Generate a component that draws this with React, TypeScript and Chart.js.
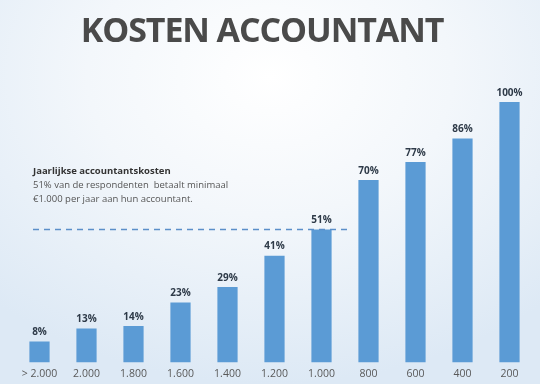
import React, { useEffect, useRef } from "react";
import { Chart, registerables } from "chart.js";

Chart.register(...registerables);

const categories = ["> 2.000", "2.000", "1.800", "1.600", "1.400", "1.200", "1.000", "800", "600", "400", "200"];
const values = [8, 13, 14, 23, 29, 41, 51, 70, 77, 86, 100];
const titleText = "KOSTEN ACCOUNTANT";
const noteTitle = "Jaarlijkse accountantskosten";
const noteLines = ["51% van de respondenten  betaalt minimaal", "€1.000 per jaar aan hun accountant."];
const refValue = 51;
const refIndex = 6;

const overlay = {
  id: "overlay",
  afterDatasetsDraw(chart: any) {
    const ctx = chart.ctx;
    const meta = chart.getDatasetMeta(0);
    const y = chart.scales.y;
    ctx.save();
    // title
    ctx.fillStyle = "#4a4a4a";
    ctx.font = "bold 34px 'Open Sans'";
    (ctx as any).letterSpacing = "-1.1px";
    ctx.textAlign = "center";
    ctx.textBaseline = "alphabetic";
    ctx.fillText(titleText, 262, 42);
    (ctx as any).letterSpacing = "0px";
    // data labels
    ctx.font = "bold 10px 'Open Sans'";
    ctx.fillStyle = "#2e3a48";
    ctx.textBaseline = "bottom";
    meta.data.forEach((bar: any, i: number) => {
      ctx.fillText(values[i] + "%", bar.x, bar.y - 4);
    });
    // dashed reference line
    const ry = y.getPixelForValue(refValue);
    const refBar = meta.data[refIndex];
    ctx.strokeStyle = "#5b8fc9";
    ctx.lineWidth = 1.5;
    ctx.setLineDash([6, 5]);
    ctx.beginPath();
    ctx.moveTo(33, ry);
    ctx.lineTo(refBar.x + refBar.width / 2 + 16, ry);
    ctx.stroke();
    ctx.setLineDash([]);
    // note
    ctx.textAlign = "left";
    ctx.textBaseline = "alphabetic";
    ctx.font = "bold 9.5px 'Open Sans'";
    ctx.fillStyle = "#333333";
    ctx.fillText(noteTitle, 33, 174);
    ctx.font = "9.5px 'Open Sans'";
    ctx.fillStyle = "#555555";
    noteLines.forEach((l, i) => ctx.fillText(l, 33, 188 + i * 14));
    ctx.restore();
  },
};

export default function App() {
  const ref = useRef<HTMLCanvasElement>(null);
  useEffect(() => {
    const chart = new Chart(ref.current!, {
      type: "bar",
      data: {
        labels: categories,
        datasets: [
          {
            data: values,
            backgroundColor: "#5b9bd5",
            borderWidth: 0,
            categoryPercentage: 1,
            barPercentage: 0.43,
          },
        ],
      },
      options: {
        responsive: false,
        animation: false,
        layout: { padding: { top: 102, left: 16, right: 7, bottom: 7 } },
        plugins: { legend: { display: false }, tooltip: { enabled: false } },
        scales: {
          y: { display: false, min: 0, max: 100 },
          x: {
            grid: { display: false },
            border: { display: false },
            ticks: { color: "#595959", font: { family: "'Open Sans'", size: 10.5 }, padding: -3 },
          },
        },
      },
      plugins: [overlay],
    });
    return () => chart.destroy();
  }, []);
  return (
    <div
      style={{
        position: "fixed",
        left: 0,
        top: 0,
        width: 540,
        height: 384,
        background: "radial-gradient(ellipse 75% 80% at 50% 20%, #ffffff 0%, #f3f7fb 45%, #dde9f5 100%)",
      }}
    >
      <canvas ref={ref} width={540} height={384} style={{ display: "block" }} />
    </div>
  );
}
